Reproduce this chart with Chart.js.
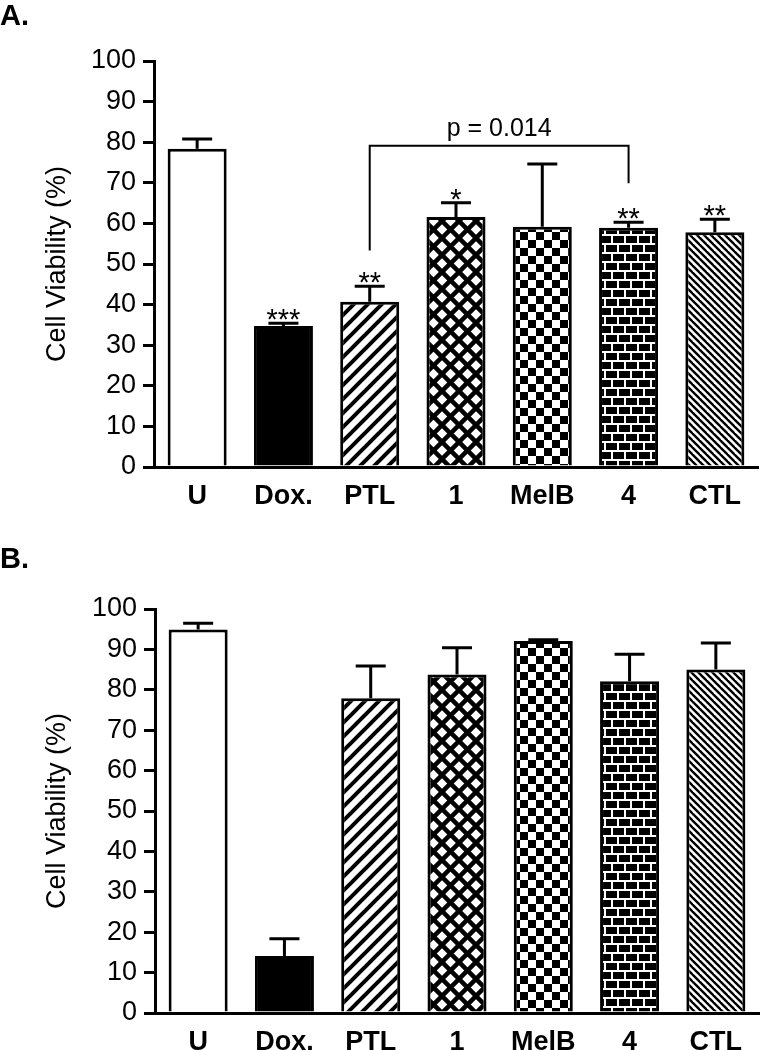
<!DOCTYPE html>
<html>
<head>
<meta charset="utf-8">
<script src="https://cdn.jsdelivr.net/npm/chart.js@4.4.1/dist/chart.umd.min.js"></script>
<style>
  body {
    margin: 0;
    background: #fff;
    width: 760px;
    height: 1050px;
    overflow: hidden;
    position: relative;
    font-family: "Liberation Sans", Arial, sans-serif;
  }
  .chart-box { position: absolute; left: 0; width: 760px; }
  .panel-label {
    position: absolute;
    left: 0;
    font-weight: bold;
    font-size: 29px;
    line-height: 1;
    z-index: 2;
  }
</style>
</head>
<body>
<div class="chart-box" style="top:0;height:520px"><canvas id="chartA"></canvas></div>
<div class="chart-box" style="top:520px;height:530px"><canvas id="chartB"></canvas></div>
<div class="panel-label" style="top:1px">A.</div>
<div class="panel-label" style="top:544px">B.</div>

<script>
const categories = ["U", "Dox.", "PTL", "1", "MelB", "4", "CTL"];

const viabilityA = [78.4, 34.7, 40.7, 61.6, 59.2, 58.9, 57.8];
const errorA = [2.4, 0.7, 3.8, 3.5, 15.4, 1.4, 3.2];
const starsA = ["", "***", "**", "*", "", "**", "**"];

const viabilityB = [94.9, 14.1, 77.9, 83.8, 92.1, 82.1, 85.0];
const errorB = [1.6, 4.3, 8.0, 6.6, 0.3, 6.7, 6.6];
const starsB = ["", "", "", "", "", "", ""];

// PTL vs 4 comparison in panel A
const bracketBars = [2, 5];
const bracketLevels = [53.3, 79.1, 69.9];
const bracketText = "p = 0.014";

const yMin = 0;
const yMax = 100;
const yStep = 10;
const yTitle = "Cell Viability (%)";

const FONT = "'Liberation Sans', Arial, sans-serif";

// --- fill patterns for the bars ---
function makePattern(w, h, draw) {
  const c = document.createElement("canvas");
  c.width = w;
  c.height = h;
  const g = c.getContext("2d");
  g.fillStyle = "#fff";
  g.fillRect(0, 0, w, h);
  g.fillStyle = "#000";
  g.strokeStyle = "#000";
  draw(g, w, h);
  return g.createPattern(c, "repeat");
}

function slashLines(g, p) {
  [0, p, 2 * p].forEach((c) => {
    g.beginPath();
    g.moveTo(c + 3, -3);
    g.lineTo(c - p - 3, p + 3);
    g.stroke();
  });
}

function backLines(g, p) {
  [-p, 0, p].forEach((c) => {
    g.beginPath();
    g.moveTo(c - 3, -3);
    g.lineTo(c + p + 3, p + 3);
    g.stroke();
  });
}

const slashFill = makePattern(14, 14, (g) => {
  g.lineWidth = 4;
  slashLines(g, 14);
});

const backFill = makePattern(7, 7, (g) => {
  g.lineWidth = 2.4;
  backLines(g, 7);
});

const crossFill = makePattern(17, 17, (g) => {
  g.lineWidth = 4.5;
  slashLines(g, 17);
  backLines(g, 17);
});

const checkerFill = makePattern(16, 16, (g) => {
  g.fillRect(0, 0, 8, 8);
  g.fillRect(8, 8, 8, 8);
});

const brickFill = makePattern(26, 18, (g) => {
  g.fillRect(0, 0, 26, 18);
  g.fillStyle = "#fff";
  g.fillRect(0, 0, 26, 2);
  g.fillRect(0, 9, 26, 2);
  g.fillRect(0, 0, 2, 9);
  g.fillRect(13, 0, 2, 9);
  g.fillRect(6, 9, 2, 9);
  g.fillRect(19, 9, 2, 9);
});

const barFills = ["#fff", "#000", slashFill, crossFill, checkerFill, brickFill, backFill];

// error bars, significance stars and the comparison bracket
const annotations = {
  id: "annotations",
  afterDatasetsDraw(chart, args, opts) {
    const { ctx } = chart;
    const { y } = chart.scales;
    const bars = chart.getDatasetMeta(0).data;

    ctx.save();
    ctx.strokeStyle = "#000";
    ctx.fillStyle = "#000";
    ctx.lineWidth = 3;

    opts.values.forEach((v, i) => {
      const cx = bars[i].x;
      const yBar = y.getPixelForValue(v);
      const yTop = y.getPixelForValue(v + opts.errors[i]);
      ctx.beginPath();
      ctx.moveTo(cx, yBar);
      ctx.lineTo(cx, yTop);
      ctx.moveTo(cx - 15, yTop);
      ctx.lineTo(cx + 15, yTop);
      ctx.stroke();

      if (opts.stars[i]) {
        ctx.font = "29px " + FONT;
        ctx.textAlign = "center";
        ctx.textBaseline = "alphabetic";
        ctx.fillText(opts.stars[i], cx, yTop + 6);
      }
    });

    if (opts.bracket) {
      const [from, to] = opts.bracket.bars;
      const [leftEnd, top, rightEnd] = opts.bracket.levels;
      const x1 = bars[from].x;
      const x2 = bars[to].x;
      const yTopLine = y.getPixelForValue(top);
      ctx.lineWidth = 2;
      ctx.beginPath();
      ctx.moveTo(x1, y.getPixelForValue(leftEnd));
      ctx.lineTo(x1, yTopLine);
      ctx.lineTo(x2, yTopLine);
      ctx.lineTo(x2, y.getPixelForValue(rightEnd));
      ctx.stroke();

      ctx.font = "25px " + FONT;
      ctx.textAlign = "center";
      ctx.textBaseline = "alphabetic";
      ctx.fillText(opts.bracket.text, (x1 + x2) / 2, yTopLine - 10);
    }
    ctx.restore();
  },
};

function drawPanel(id, values, errors, stars, bracket, layout) {
  return new Chart(document.getElementById(id), {
    type: "bar",
    data: {
      labels: categories,
      datasets: [
        {
          data: values,
          backgroundColor: barFills,
          borderColor: "#000",
          borderWidth: 3,
          barPercentage: 0.684,
          categoryPercentage: 1,
        },
      ],
    },
    options: {
      responsive: true,
      maintainAspectRatio: false,
      animation: false,
      devicePixelRatio: 1,
      layout: {
        autoPadding: false,
        padding: { top: layout.top, right: layout.right, left: 0, bottom: 0 },
      },
      plugins: {
        legend: { display: false },
        tooltip: { enabled: false },
        annotations: { values, errors, stars, bracket },
      },
      scales: {
        x: {
          grid: { display: false, drawTicks: false },
          border: { display: true, color: "#000", width: 3 },
          ticks: {
            color: "#000",
            padding: 13,
            font: { family: FONT, size: 27, weight: "bold" },
          },
          afterFit: (s) => {
            s.height = layout.xHeight;
          },
        },
        y: {
          min: yMin,
          max: yMax,
          ticks: {
            stepSize: yStep,
            color: "#000",
            padding: 7,
            font: { family: FONT, size: 27 },
          },
          grid: {
            drawOnChartArea: false,
            color: "#000",
            lineWidth: 3,
            tickLength: 11,
          },
          border: { display: true, color: "#000", width: 3 },
          title: {
            display: true,
            text: yTitle,
            color: "#000",
            font: { family: FONT, size: 27 },
            padding: { top: 41, bottom: 0 },
          },
          afterFit: (s) => {
            s.width = layout.yWidth;
          },
        },
      },
    },
    plugins: [annotations],
  });
}

drawPanel(
  "chartA",
  viabilityA,
  errorA,
  starsA,
  { bars: bracketBars, levels: bracketLevels, text: bracketText },
  { top: 61, right: 2, xHeight: 53, yWidth: 154 }
);

drawPanel(
  "chartB",
  viabilityB,
  errorB,
  starsB,
  null,
  { top: 89, right: 1, xHeight: 37, yWidth: 155 }
);
</script>
</body>
</html>
